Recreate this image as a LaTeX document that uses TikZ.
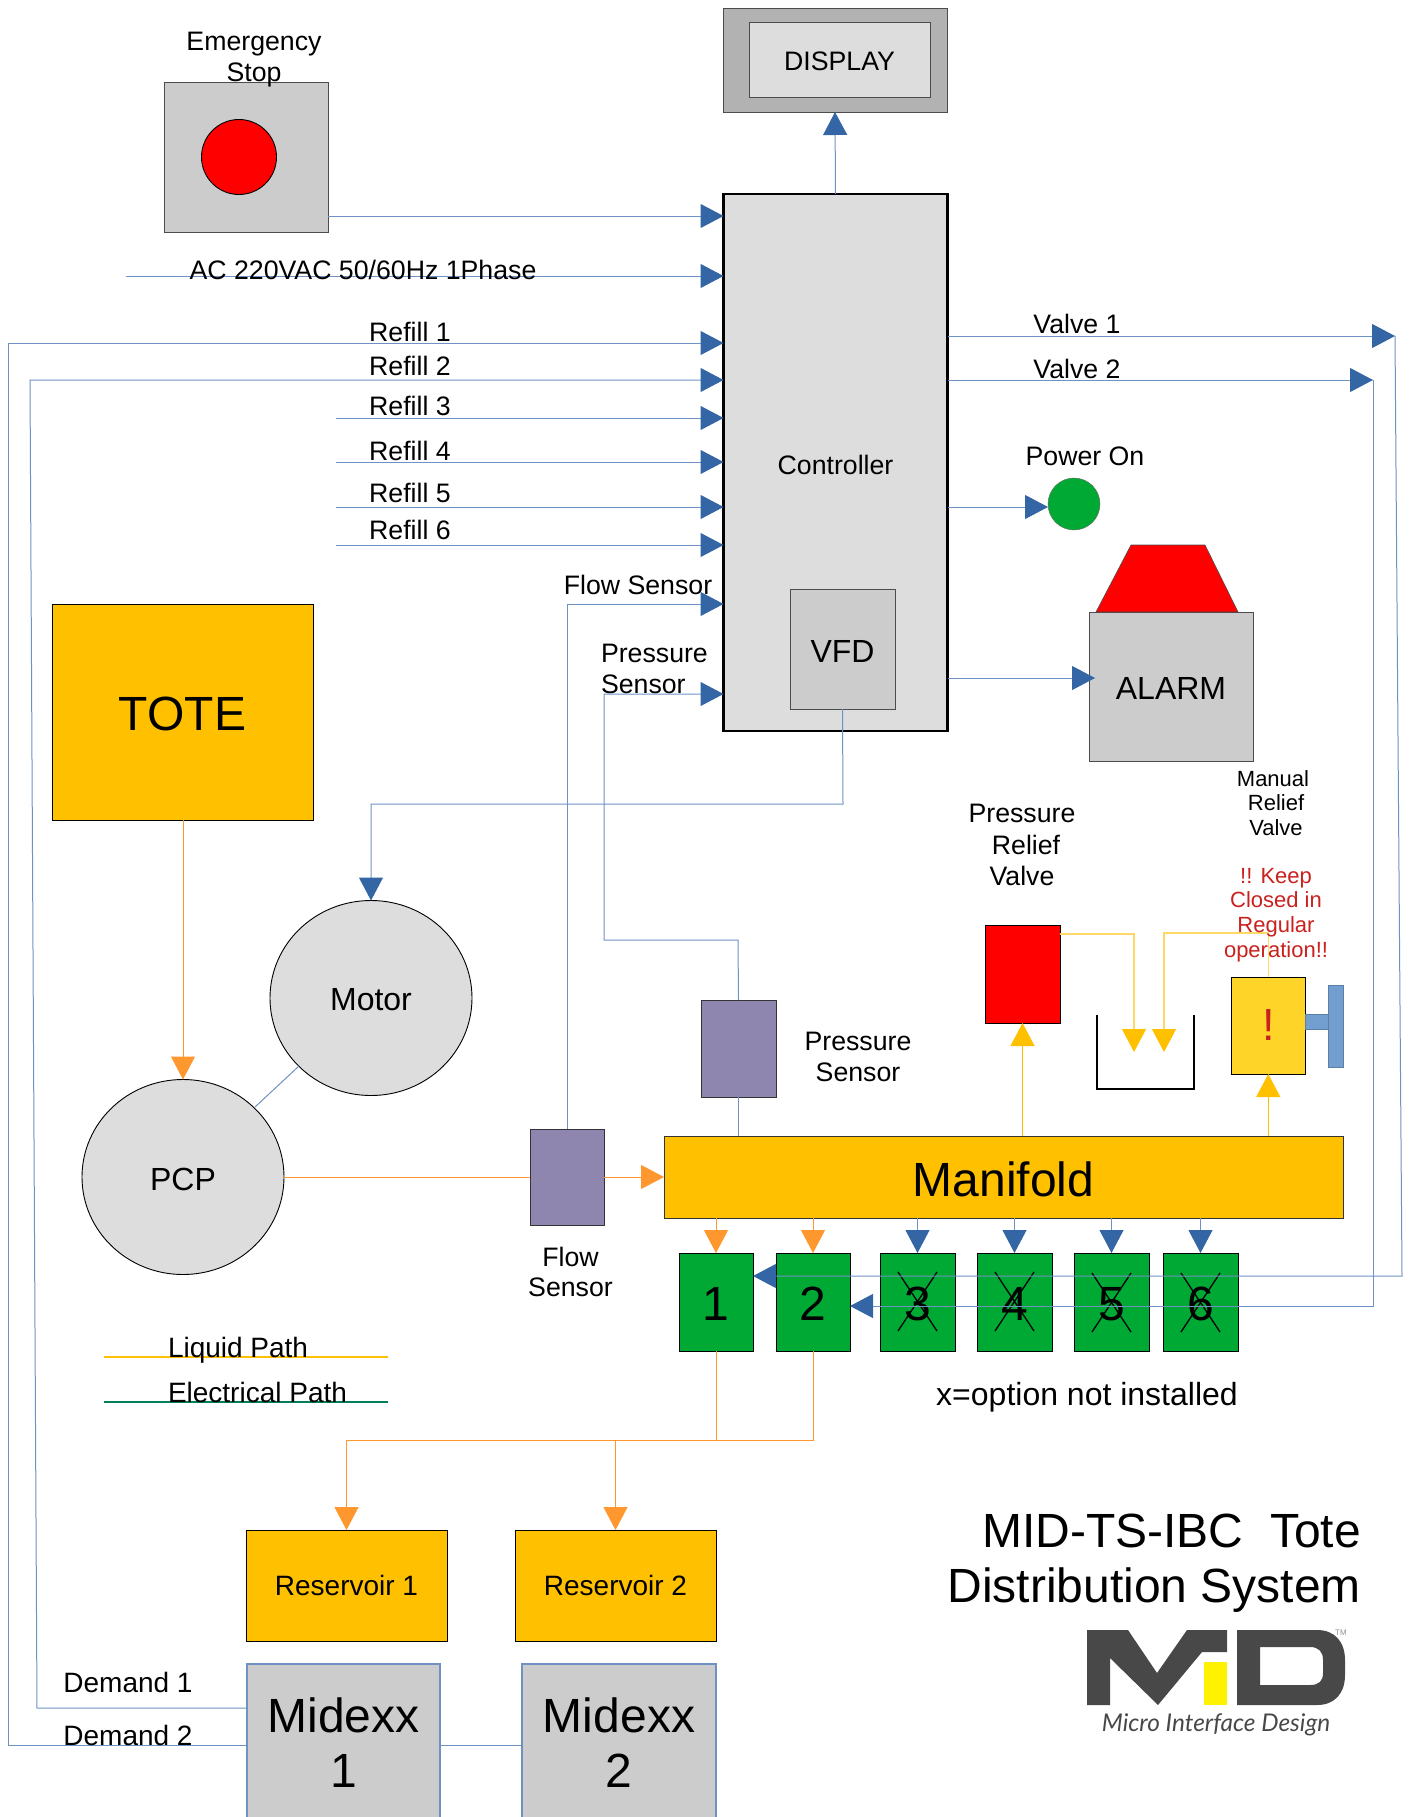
\documentclass[tikz,border=0pt]{standalone}
\usepackage{fontspec}
\setmainfont{Liberation Sans}
\newfontfamily\logofont{Lato}
\usetikzlibrary{arrows.meta,shapes.geometric}
\definecolor{wire}{HTML}{6F92C4}
\definecolor{hdblue}{HTML}{3465A4}
\definecolor{org}{HTML}{FF972F}
\definecolor{amber}{HTML}{FFC000}
\definecolor{ylw}{HTML}{FFD966}
\definecolor{vgreen}{HTML}{00A933}
\definecolor{gry}{HTML}{CCCCCC}
\definecolor{ctrlgry}{HTML}{DDDDDD}
\definecolor{purp}{HTML}{8E86AE}
\definecolor{gold}{HTML}{FFD428}
\definecolor{warn}{HTML}{C9211E}
\definecolor{handle}{HTML}{729FCF}
\definecolor{logogry}{HTML}{484848}
\definecolor{epath}{HTML}{00805A}
\newcommand\fsz[1]{\fontsize{#1}{#1}\selectfont}
\newcommand\dn[1]{\raisebox{-2pt}[\height][\depth]{#1}}
\newcommand\bx[7][]{\node[boxn,#1,minimum width={(#5-#3)*1pt},minimum height={(#6-#4)*1pt}] (#2) at ({(#3+#5)/2},{(#4+#6)/2}) {#7};}
\tikzset{
  boxn/.style={draw=black,line width=0.9pt,inner sep=0pt,outer sep=0pt,font=\fsz{26.7},align=center},
  lbl/.style={inner sep=0pt,outer sep=0pt,font=\fsz{26.7},align=center,text=black},
  bw/.style={draw=wire,line width=1pt,line join=miter},
  bwa/.style={bw,-{Triangle[length=23pt,width=24pt,color=hdblue]}},
  ow/.style={draw=org,line width=1pt},
  owa/.style={ow,-{Triangle[length=23pt,width=24pt,color=org]}},
  yw/.style={draw=ylw,line width=1.2pt},
  ywa/.style={yw,-{Triangle[length=23pt,width=24pt,color=amber]}},
  amba/.style={draw=amber,line width=1.2pt,-{Triangle[length=23pt,width=24pt,color=amber]}},
  crossx/.style={draw=black,line width=1.3pt},
}
\begin{document}
\begin{tikzpicture}[x=1pt,y=-1pt]
\useasboundingbox (0,0) rectangle (1408,1817);
\clip (0,0) rectangle (1408,1817);
% boxes
\bx[fill=black!30,draw=black!70]{dispouter}{723}{8}{947}{112}{}
\bx[fill=ctrlgry,draw=black!70]{disp}{749}{22}{930}{97}{\dn{DISPLAY}}
\bx[fill=ctrlgry,line width=2.6pt]{ctrl}{723.5}{194}{947.5}{731}{\dn{Controller}}
\bx[fill=gry,draw=black!70]{vfd}{790}{589}{895}{709}{\fsz{32}\dn{VFD}}
\bx[fill=gry,draw=black!70]{estop}{164}{82}{328}{232}{}
\node[circle,draw=black,fill=red,line width=0.9pt,minimum size=75pt,inner sep=0pt,outer sep=0pt] (stopbtn) at (239,157) {};
\bx[fill=amber]{tote}{52}{604}{313}{820}{\fsz{48}\dn{TOTE}}
\bx[fill=gry,draw=black!70]{alarm}{1089}{612}{1253}{761}{\fsz{32}\dn{ALARM}}
\draw[draw=black!70,fill=red,line width=0.6pt] (1131,545) -- (1205,545) -- (1238,612) -- (1096,612) -- cycle;
\node[circle,draw=black!60,fill=vgreen,minimum size=52pt,inner sep=0pt,outer sep=0pt] (pwr) at (1074,504) {};
\node[ellipse,draw=black,fill=ctrlgry,line width=0.9pt,minimum width=202pt,minimum height=195pt,inner sep=0pt,outer sep=0pt,font=\fsz{32}] (pcp) at (183,1177) {\dn{PCP}};
\node[ellipse,draw=black,fill=ctrlgry,line width=0.9pt,minimum width=202pt,minimum height=195pt,inner sep=0pt,outer sep=0pt,font=\fsz{32}] (motor) at (371,998) {\dn{Motor}};
\bx[fill=purp,draw=black!80]{psens}{701}{1000}{776}{1097}{}
\bx[fill=purp,draw=black!80]{fsens}{530}{1129}{604}{1225}{}
\bx[fill=amber,draw=black!80]{mani}{664}{1136}{1343}{1218}{\fsz{48}\dn{Manifold}}
\bx[fill=red]{prv}{985}{925}{1060}{1023}{}
\bx[fill=gold]{mrv}{1231}{977}{1305.5}{1074}{\fsz{45}\textcolor{warn}{!}}
\bx[fill=handle,draw=handle!80!black,line width=0.6pt]{stem}{1305.5}{1014}{1328}{1029}{}
\bx[fill=handle,draw=handle!80!black,line width=0.6pt]{plate}{1328}{985}{1343}{1067}{}
\draw[draw=black,line width=2pt] (1097,1015) -- (1097,1089) -- (1194,1089) -- (1194,1015);
\bx[fill=vgreen]{g1}{679}{1253}{753}{1351}{\fsz{48}\dn{1}}
\bx[fill=vgreen]{g2}{776}{1253}{850}{1351}{\fsz{48}\dn{2}}
\bx[fill=vgreen]{g3}{880}{1253}{955}{1351}{\fsz{48}\dn{3}}
\bx[fill=vgreen]{g4}{977}{1253}{1052}{1351}{\fsz{48}\dn{4}}
\bx[fill=vgreen]{g5}{1074}{1253}{1149}{1351}{\fsz{48}\dn{5}}
\bx[fill=vgreen]{g6}{1163}{1253}{1238}{1351}{\fsz{48}\dn{6}}
\draw[crossx] (898,1272) -- (937,1331) (937,1272) -- (898,1331);
\draw[crossx] (995,1272) -- (1034,1331) (1034,1272) -- (995,1331);
\draw[crossx] (1092,1273) -- (1131,1332) (1131,1273) -- (1092,1332);
\draw[crossx] (1181,1273) -- (1220,1332) (1220,1273) -- (1181,1332);
\bx[fill=amber,font=\fsz{28}]{res1}{246}{1530}{447}{1641}{Reservoir 1}
\bx[fill=amber,font=\fsz{28}]{res2}{515}{1530}{716}{1641}{Reservoir 2}
\bx[fill=gry,draw=wire,line width=1.1pt,font={\fontsize{48}{55}\selectfont}]{mid1}{247}{1664}{440}{1822}{Midexx\\1}
\bx[fill=gry,draw=wire,line width=1.1pt,font={\fontsize{48}{55}\selectfont}]{mid2}{522}{1664}{716}{1822}{Midexx\\2}
% free ends
\coordinate (acs) at (126,276);
\coordinate (r3s) at (336,418);
\coordinate (r4s) at (336,462);
\coordinate (r5s) at (336,507);
\coordinate (r6s) at (336,545);
\coordinate (v1e) at (1395,336);
\coordinate (v2e) at (1373,380);
\coordinate (liqa) at (104,1357);
\coordinate (liqb) at (388,1357);
\coordinate (elea) at (104,1402);
\coordinate (eleb) at (388,1402);
% wiring to controller
\draw[bwa] (ctrl.north) -- (dispouter.south);
\draw[bwa] (estop.east |- 0,216) -- (ctrl.west |- 0,216);
\draw[bwa] (acs) -- (ctrl.west |- acs);
\draw[bwa] (mid1.west |- 0,1745) -- (8,1745) -- (8,343) -- (ctrl.west |- 0,343);
\draw[bwa] (mid1.west |- 0,1708) -- (37,1708) -- (30,380) -- (ctrl.west |- 0,380);
\draw[bw] (mid1.east |- 0,1745) -- (mid2.west |- 0,1745);
\draw[bwa] (r3s) -- (ctrl.west |- r3s);
\draw[bwa] (r4s) -- (ctrl.west |- r4s);
\draw[bwa] (r5s) -- (ctrl.west |- r5s);
\draw[bwa] (r6s) -- (ctrl.west |- r6s);
\draw[bwa] (567,1129) -- (567,604) -- (ctrl.west |- 0,604);
\draw[bwa] (psens.north) -- (738,940) -- (604,940) -- (604,694) -- (ctrl.west |- 0,694);
\draw[bw] (psens.south) -- (psens.south |- mani.north);
\draw[bwa] (vfd.south) -- (843,804) -- (371,804) -- (motor.north);
\draw[bw] (255,1107) -- (299,1066);
\draw[bwa] (ctrl.east |- 0,507) -- (pwr.west |- 0,507);
\draw[bwa] (ctrl.east |- 0,678) -- (1095,678);
\draw[bwa] (ctrl.east |- v1e) -- (v1e);
\draw[bwa] (ctrl.east |- v2e) -- (v2e);
\draw[bwa] (v1e) -- (1402,1276) -- (g1.east |- 0,1276);
\draw[bwa] (v2e) -- (1373,1306) -- (g2.east |- 0,1306);
% manifold to valves
\draw[owa] (g1.north |- mani.south) -- (g1.north);
\draw[owa] (g2.north |- mani.south) -- (g2.north);
\draw[bwa] (g3.north |- mani.south) -- (g3.north);
\draw[bwa] (g4.north |- mani.south) -- (g4.north);
\draw[bwa] (g5.north |- mani.south) -- (g5.north);
\draw[bwa] (g6.north |- mani.south) -- (g6.north);
% liquid
\draw[owa] (tote.south -| pcp.north) -- (pcp.north);
\draw[ow] (pcp.east) -- (fsens.west |- pcp.east);
\draw[owa] (fsens.east |- pcp.east) -- (mani.west |- pcp.east);
\draw[ow] (g1.south) -- (g1.south |- 0,1440);
\draw[ow] (g2.south) -- (g2.south |- 0,1440) -- (res1.north |- 0,1440);
\draw[owa] (res1.north |- 0,1440) -- (res1.north);
\draw[owa] (res2.north |- 0,1440) -- (res2.north);
\draw[amba] (prv.south |- mani.north) -- (prv.south);
\draw[amba] (mrv.south |- mani.north) -- (mrv.south);
\coordinate (tank1) at (1134,1052);
\coordinate (tank2) at (1164,1052);
\draw[ywa] (prv.east |- 0,934) -- (tank1 |- 0,934) -- (tank1);
\draw[ywa] (mrv.north) -- (mrv.north |- 0,933) -- (tank2 |- 0,933) -- (tank2);
% legend
\draw[draw=amber,line width=1.5pt] (liqa) -- (liqb);
\draw[draw=epath,line width=1.5pt] (elea) -- (eleb);
% labels
\node[lbl,font={\fontsize{26.7}{31}\selectfont}] (lstop) at (254,59.5) {Emergency\\Stop};
\node[lbl] (lac) at (363,270) {AC 220VAC 50/60Hz 1Phase};
\node[lbl] (lr1) at (410,332) {Refill 1};
\node[lbl] (lr2) at (410,366) {Refill 2};
\node[lbl] (lr3) at (410,406) {Refill 3};
\node[lbl] (lr4) at (410,451) {Refill 4};
\node[lbl] (lr5) at (410,493) {Refill 5};
\node[lbl] (lr6) at (410,530) {Refill 6};
\node[lbl] (lfs) at (638,585) {Flow Sensor};
\node[lbl,align=left,anchor=west,font={\fontsize{26.7}{31}\selectfont}] (lps) at (601,669) {Pressure\\Sensor};
\node[lbl] (lv1) at (1077,324) {Valve 1};
\node[lbl] (lv2) at (1077,369) {Valve 2};
\node[lbl] (lpo) at (1085,456) {Power On};
\node[lbl,font={\fontsize{26.7}{31.3}\selectfont}] (lprv) at (1022,845) {Pressure\\\hspace*{8pt}Relief\\Valve};
\node[lbl,font={\fontsize{22}{24.8}\selectfont}] (lmrv) at (1273,803) {Manual\\\hspace*{6pt}Relief\\\hspace*{6pt}Valve};
\node[lbl,text=warn,font={\fontsize{22}{24.7}\selectfont}] (lkeep) at (1276,915) {!! Keep\\Closed in\\Regular\\operation!!};
\node[lbl,font={\fontsize{26.7}{31}\selectfont}] (lps2) at (858,1056.5) {Pressure\\Sensor};
\node[lbl,font={\fontsize{26.7}{30}\selectfont}] (lfs2) at (570.5,1272) {Flow\\Sensor};
\node[lbl,anchor=west,font=\fsz{28}] (lliq) at (168,1350) {Liquid Path};
\node[lbl,anchor=west,font=\fsz{28}] (lele) at (168,1392) {Electrical Path};
\node[lbl,font=\fsz{32}] (lopt) at (1087,1397) {x=option not installed};
\node[lbl,font=\fsz{28}] (ld1) at (128,1682) {Demand 1};
\node[lbl,font=\fsz{28}] (ld2) at (128,1735) {Demand 2};
\node[lbl,align=right,anchor=east,font={\fontsize{48}{54.5}\selectfont}] (ltitle) at (1361,1563) {MID-TS-IBC\ \ Tote\\Distribution System};
% logo
\fill[logogry] (1087,1630) -- (1128,1630) -- (1157,1673) -- (1187,1630) -- (1227,1630) -- (1227,1652) -- (1202,1652) -- (1158,1705) -- (1110,1658) -- (1110,1705) -- (1087,1705) -- cycle;
\fill[yellow] (1204,1662) rectangle (1227,1705);
\fill[logogry,even odd rule] (1237,1630) -- (1317,1630) .. controls (1335,1630) and (1345,1642) .. (1345,1660) -- (1345,1675) .. controls (1345,1693) and (1335,1705) .. (1317,1705) -- (1237,1705) -- cycle
 (1260,1647) -- (1310,1647) .. controls (1319,1647) and (1323,1652) .. (1323,1660) -- (1323,1673) .. controls (1323,1681) and (1319,1685) .. (1310,1685) -- (1260,1685) -- cycle;
\node[inner sep=0pt,text=logogry!60,font=\fsz{8}] (tm) at (1341,1633) {TM};
\node[inner sep=0pt,text=logogry,font={\logofont\itshape\fsz{24.4}}] (lmid) at (1216,1725) {Micro Interface Design};
\end{tikzpicture}
\end{document}
